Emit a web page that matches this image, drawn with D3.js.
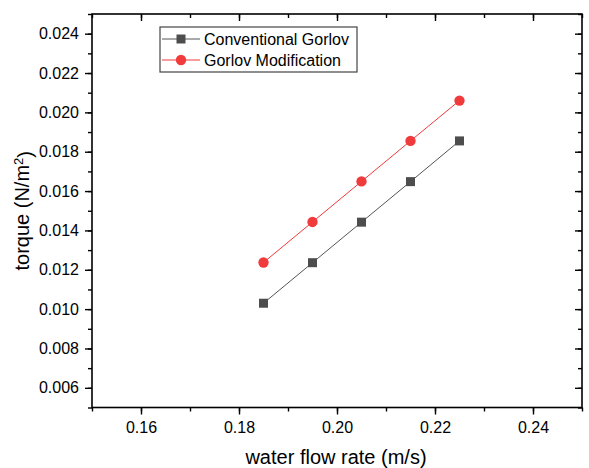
<!DOCTYPE html>
<html><head><meta charset="utf-8">
<script src="https://cdn.jsdelivr.net/npm/d3@7/dist/d3.min.js"></script>
<style>body{margin:0;background:#fff}svg{display:block}text{font-family:Arial,"Liberation Sans",sans-serif;fill:#000}</style>
</head><body><svg id="c" width="589" height="468"></svg>
<script>
const flowRate = [0.185, 0.195, 0.205, 0.215, 0.225];
const conventionalGorlov = [0.01030, 0.01236, 0.01442, 0.01648, 0.01855];
const gorlovModification = [0.01237, 0.01443, 0.01649, 0.01855, 0.02060];
const seriesNames = ["Conventional Gorlov", "Gorlov Modification"];
const xTicks = [0.16, 0.18, 0.20, 0.22, 0.24];
const yTicks = [0.006, 0.008, 0.010, 0.012, 0.014, 0.016, 0.018, 0.020, 0.022, 0.024];

const svg = d3.select("#c");
const L = 92, R = 582, T = 14, B = 407.5;
const x = d3.scaleLinear().domain([0.15, 0.25]).range([L, R]);
const y = d3.scaleLinear().domain([0.005, 0.025]).range([B, T]);

const xMinor = d3.range(0.15, 0.2501, 0.01).map(v => +v.toFixed(3));
const yMinor = d3.range(0.005, 0.02501, 0.001).map(v => +v.toFixed(4));

function ax(axisGen, tr, major, minor, majLen, minLen, fmt, labels, pad) {
  const g = svg.append("g").attr("transform", tr);
  g.call(axisGen.tickValues(minor).tickSize(minLen).tickFormat(""));
  g.selectAll(".domain").remove();
  g.selectAll("line").attr("stroke", "#000").attr("stroke-width", 1.4);
  const g2 = svg.append("g").attr("transform", tr);
  g2.call(axisGen.tickValues(major).tickSize(majLen).tickPadding(pad).tickFormat(labels ? fmt : ""));
  g2.selectAll(".domain").remove();
  g2.selectAll("line").attr("stroke", "#000").attr("stroke-width", 1.4);
  g2.selectAll("text").style("font-size", "16px").attr("fill", "#000");
  return g2;
}
const fx = d3.format(".2f"), fy = d3.format(".3f");
ax(d3.axisBottom(x), `translate(0,${B})`, xTicks, xMinor, 7, 4, fx, true, 7);
ax(d3.axisTop(x), `translate(0,${T})`, xTicks, xMinor, -7, -4, fx, false, 6);
ax(d3.axisLeft(y), `translate(${L},0)`, yTicks, yMinor, 7, 4, fy, true, 6);
ax(d3.axisRight(y), `translate(${R},0)`, yTicks, yMinor, -7, -4, fy, false, 6);

svg.append("rect").attr("x", L).attr("y", T).attr("width", R - L).attr("height", B - T)
  .attr("fill", "none").attr("stroke", "#000").attr("stroke-width", 1.6);

const colors = ["#4d4d4d", "#f03a3c"];
const lineColors = ["#555555", "#f03a3c"];
const data = [conventionalGorlov, gorlovModification];
const line = d3.line().x((d, i) => x(flowRate[i])).y(d => y(d));
data.forEach((s, k) => {
  svg.append("path").datum(s).attr("d", line).attr("fill", "none")
    .attr("stroke", lineColors[k]).attr("stroke-width", 1);
  const sym = d3.symbol().type(k === 0 ? d3.symbolSquare : d3.symbolCircle).size(k === 0 ? 81 : 84);
  svg.selectAll(null).data(s).enter().append("path")
    .attr("d", sym)
    .attr("transform", (d, i) => `translate(${x(flowRate[i])},${y(d)})`)
    .attr("fill", colors[k]);
});

// legend
const lg = svg.append("g");
lg.append("rect").attr("x", 160).attr("y", 27).attr("width", 197).attr("height", 45)
  .attr("fill", "#fff").attr("stroke", "#444").attr("stroke-width", 1.2);
seriesNames.forEach((n, k) => {
  const yy = 39 + k * 21;
  lg.append("line").attr("x1", 162).attr("x2", 200).attr("y1", yy).attr("y2", yy)
    .attr("stroke", lineColors[k]).attr("stroke-width", 1);
  lg.append("path").attr("d", d3.symbol().type(k === 0 ? d3.symbolSquare : d3.symbolCircle).size(k === 0 ? 81 : 84)())
    .attr("transform", `translate(181,${yy})`).attr("fill", colors[k]);
  lg.append("text").attr("x", 204).attr("y", yy).attr("dy", "0.35em").style("font-size", "16px").text(n);
});

svg.append("text").attr("x", (L + R) / 2 - 1).attr("y", 464).attr("text-anchor", "middle")
  .style("font-size", "20px").text("water flow rate (m/s)");
const yt = svg.append("text").attr("transform", `translate(29,${(T + B) / 2}) rotate(-90)`)
  .attr("text-anchor", "middle").style("font-size", "20px");
yt.append("tspan").text("torque (N/m");
yt.append("tspan").attr("dy", "-0.45em").style("font-size", "13px").text("2");
yt.append("tspan").attr("dy", "0.45em").text(")");
</script></body></html>
